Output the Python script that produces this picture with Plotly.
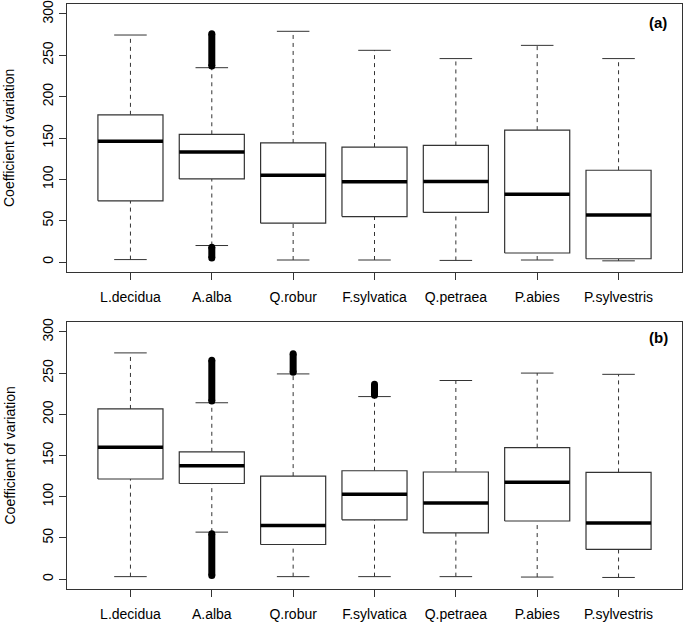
import plotly.graph_objects as go

# ---------------- data ----------------
species = ["L.decidua", "A.alba", "Q.robur", "F.sylvatica", "Q.petraea", "P.abies", "P.sylvestris"]
y_ticks = [0, 50, 100, 150, 200, 250, 300]

# panel (a)
a_low = [3, 20, 2.5, 2.5, 2, 2.5, 1.5]
a_q1 = [74, 100.5, 47, 55, 60, 11, 4]
a_med = [146, 133, 105, 97, 97.5, 82, 57]
a_q3 = [178, 154.5, 144, 139, 141, 159.5, 111]
a_high = [274.5, 235, 279, 256, 246, 262, 246]
# outlier ranges (species, low, high)
a_outliers = [("A.alba", 237, 276), ("A.alba", 5, 18)]

# panel (b)
b_low = [3, 57, 3, 3, 3, 2.5, 2]
b_q1 = [121.5, 116, 42, 72, 56, 70.5, 36]
b_med = [160, 137.5, 65, 103, 92.5, 117.5, 68]
b_q3 = [206.5, 154.5, 125, 131.5, 130, 159.5, 129.5]
b_high = [274.5, 214, 249, 221.5, 241, 250, 248.5]
b_outliers = [("A.alba", 216, 265.5), ("A.alba", 4.5, 55), ("Q.robur", 251, 273.5), ("F.sylvatica", 223, 236.5)]

# ---------------- layout constants ----------------
W, H = 685, 625
LEFT, RIGHT = 67, 682
A_TOP, A_BOT = 4, 272
B_TOP, B_BOT = 322, 589
BOX_HW = 0.4
CAP_HW = 0.2
LINE_C = "#333333"
FONT = "Liberation Sans, Arial, sans-serif"

fig = go.Figure()
pos = list(range(1, len(species) + 1))


def add_panel(low, q1, med, q3, high, outliers, xa, ya):
    common = dict(xaxis=xa, yaxis=ya, hoverinfo="skip", showlegend=False)
    for i, p in enumerate(pos):
        # dashed whiskers
        fig.add_trace(go.Scatter(x=[p, p, None, p, p], y=[low[i], q1[i], None, q3[i], high[i]],
                                 mode="lines", line=dict(color=LINE_C, width=1, dash="4px,4px"), **common))
        # caps
        fig.add_trace(go.Scatter(x=[p - CAP_HW, p + CAP_HW, None, p - CAP_HW, p + CAP_HW],
                                 y=[low[i], low[i], None, high[i], high[i]],
                                 mode="lines", line=dict(color=LINE_C, width=1), **common))
        # box
        fig.add_trace(go.Scatter(x=[p - BOX_HW, p + BOX_HW, p + BOX_HW, p - BOX_HW, p - BOX_HW],
                                 y=[q1[i], q1[i], q3[i], q3[i], q1[i]],
                                 mode="lines", fill="toself", fillcolor="white",
                                 line=dict(color=LINE_C, width=1.2), **common))
        # median
        fig.add_trace(go.Scatter(x=[p - BOX_HW, p + BOX_HW], y=[med[i], med[i]],
                                 mode="lines", line=dict(color="black", width=3.5), **common))
    for name, lo, hi in outliers:
        p = pos[species.index(name)]
        fig.add_trace(go.Scatter(x=[p, p], y=[lo, hi], mode="lines+markers",
                                 line=dict(color="black", width=7),
                                 marker=dict(color="black", size=7, line=dict(width=0)), **common))


add_panel(a_low, a_q1, a_med, a_q3, a_high, a_outliers, "x", "y")
add_panel(b_low, b_q1, b_med, b_q3, b_high, b_outliers, "x2", "y2")

xdom = [LEFT / W, RIGHT / W]
ydom_a = [1 - A_BOT / H, 1 - A_TOP / H]
ydom_b = [1 - B_BOT / H, 1 - B_TOP / H]

xax = dict(range=[0.22, 7.78], tickvals=pos, ticktext=species, ticks="outside", ticklen=7,
           tickcolor=LINE_C, showline=True, mirror=True, linecolor=LINE_C, linewidth=1,
           showgrid=False, zeroline=False, automargin=False, domain=xdom, ticklabelstandoff=5,
           ticklabeloverflow="allow",
           tickfont=dict(family=FONT, size=14, color="black"), fixedrange=True)
yax = dict(range=[-12, 312], tickvals=y_ticks, ticktext=[str(v) for v in y_ticks], tickangle=-90,
           ticks="outside", ticklen=7, tickcolor=LINE_C, showline=True, mirror=True,
           linecolor=LINE_C, linewidth=1, showgrid=False, zeroline=False, automargin=False,
           ticklabeloverflow="allow",
           tickfont=dict(family=FONT, size=14, color="black"), fixedrange=True)

fig.update_layout(
    width=W, height=H, template="none",
    margin=dict(l=0, r=0, t=0, b=0),
    paper_bgcolor="white", plot_bgcolor="white",
    xaxis=dict(**xax, anchor="y"),
    xaxis2=dict(**xax, anchor="y2"),
    yaxis=dict(**yax, domain=ydom_a, anchor="x"),
    yaxis2=dict(**yax, domain=ydom_b, anchor="x2"),
    showlegend=False,
    annotations=[
        dict(text="<b>(a)</b>", x=669 / W, y=1 - 22 / H, xref="paper", yref="paper",
             xanchor="right", yanchor="middle", showarrow=False,
             font=dict(family=FONT, size=15, color="black")),
        dict(text="<b>(b)</b>", x=670 / W, y=1 - 338 / H, xref="paper", yref="paper",
             xanchor="right", yanchor="middle", showarrow=False,
             font=dict(family=FONT, size=15, color="black")),
        dict(text="Coefficient of variation", x=9 / W, y=1 - (A_TOP + A_BOT) / 2 / H,
             xref="paper", yref="paper", xanchor="center", yanchor="middle", textangle=-90,
             showarrow=False, font=dict(family=FONT, size=14, color="black")),
        dict(text="Coefficient of variation", x=9 / W, y=1 - (B_TOP + B_BOT) / 2 / H,
             xref="paper", yref="paper", xanchor="center", yanchor="middle", textangle=-90,
             showarrow=False, font=dict(family=FONT, size=14, color="black")),
    ],
)

fig.write_html("out.html", config={"displayModeBar": False, "staticPlot": True},
               post_script="document.body.style.margin='0';document.body.style.overflow='hidden';")
